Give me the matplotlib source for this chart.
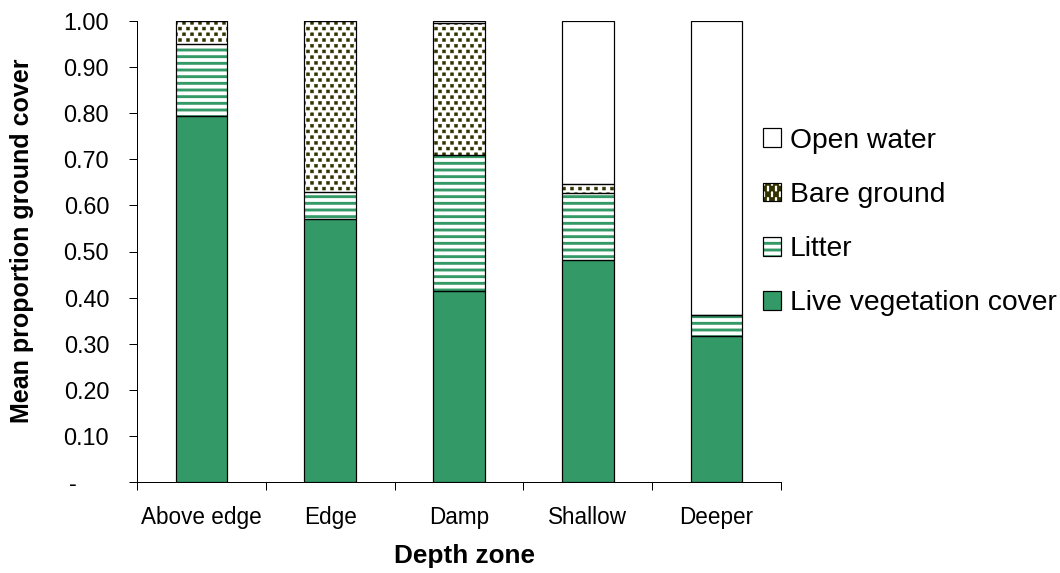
import matplotlib
matplotlib.use("Agg")
import matplotlib.pyplot as plt
import numpy as np
from matplotlib import hatch as mhatch
from matplotlib.path import Path
from matplotlib.ticker import FixedLocator, FuncFormatter, NullFormatter

# Mean proportion of ground cover in each depth zone
zones = ["Above edge", "Edge", "Damp", "Shallow", "Deeper"]
live_vegetation = [0.794, 0.570, 0.414, 0.482, 0.317]
litter = [0.157, 0.059, 0.295, 0.145, 0.045]
bare_ground = [0.049, 0.371, 0.286, 0.019, 0.000]
open_water = [0.000, 0.000, 0.005, 0.354, 0.638]

series_names = ["Live vegetation cover", "Litter", "Bare ground", "Open water"]
y_ticks = [0.0, 0.1, 0.2, 0.3, 0.4, 0.5, 0.6, 0.7, 0.8, 0.9, 1.0]

GREEN = "#339966"
OLIVE = "#333300"


class SquareDotHatch(mhatch.HatchPatternBase):
    """Staggered small filled squares, used for the '.' hatch."""
    side = 0.036  # square side, in hatch-cell units

    def __init__(self, hatch, density):
        k = hatch.count('.')
        self.num_vertices = 0
        if k == 0:
            return
        n = 5 * k          # squares per row in one cell
        m = 7 * k          # rows in one cell (even count keeps the tile seamless)
        m += m % 2
        self.centres = []
        for j in range(m + 1):
            y = j / m
            if j % 2 == 0:
                xs = np.linspace(0, 1, n + 1)
            else:
                xs = (np.arange(n) + 0.5) / n
            self.centres.extend((xx, y) for xx in xs)
        self.num_vertices = 5 * len(self.centres)

    def set_vertices_and_codes(self, vertices, codes):
        h = 0.5 * self.side
        sq = np.array([[-h, -h], [h, -h], [h, h], [-h, h], [-h, -h]])
        sc = [Path.MOVETO, Path.LINETO, Path.LINETO, Path.LINETO,
              Path.CLOSEPOLY]
        for k, (cx, cy) in enumerate(self.centres):
            vertices[5 * k:5 * k + 5] = sq + (cx, cy)
            codes[5 * k:5 * k + 5] = sc


mhatch._hatch_types = [SquareDotHatch if t is mhatch.SmallFilledCircles else t
                       for t in mhatch._hatch_types]

plt.rcParams["font.family"] = ["Liberation Sans", "DejaVu Sans"]
plt.rcParams["hatch.linewidth"] = 2.6

DPI = 80
W, H = 1060, 573
fig = plt.figure(figsize=(W / DPI, H / DPI), dpi=DPI)
ax = fig.add_axes([137 / W, 1 - 482 / H, 644 / W, 461 / H])

x = np.arange(len(zones))
width = 0.4

styles = [
    dict(color=GREEN, edgecolor=GREEN, hatch=None, hlw=None),
    dict(color="white", edgecolor=GREEN, hatch="--", hlw=2.6),
    dict(color="white", edgecolor=OLIVE, hatch="..", hlw=0.5),
    dict(color="white", edgecolor="white", hatch=None, hlw=None),
]

bottom = np.zeros(len(zones))
handles = []
for vals, st in zip([live_vegetation, litter, bare_ground, open_water], styles):
    vals = np.asarray(vals)
    fill = ax.bar(x, vals, width, bottom=bottom, color=st["color"],
                  edgecolor=st["edgecolor"], hatch=st["hatch"], linewidth=0,
                  zorder=2)
    if st["hlw"] is not None:
        for p in fill.patches:
            if hasattr(p, "set_hatch_linewidth"):
                p.set_hatch_linewidth(st["hlw"])
    outline = ax.bar(x, vals, width, bottom=bottom, fill=False,
                     edgecolor="black", linewidth=1.1, zorder=3)
    handles.append((fill, outline))
    bottom = bottom + vals

# Axes limits and spines
ax.set_xlim(-0.5, len(zones) - 0.5)
ax.set_ylim(0, 1.0)
for side in ("top", "right"):
    ax.spines[side].set_visible(False)
for side in ("left", "bottom"):
    ax.spines[side].set_linewidth(0.9)
    ax.spines[side].set_color("black")

# y ticks
ax.yaxis.set_major_locator(FixedLocator(y_ticks))
ax.yaxis.set_major_formatter(
    FuncFormatter(lambda v, pos: "-" + "\u2007\u2007 " if abs(v) < 1e-9 else f"{v:.2f}"))
ax.tick_params(axis="y", direction="out", length=7, width=0.9, pad=18,
               labelsize=21, colors="black")

# x ticks: marks at category boundaries, labels at centres
ax.xaxis.set_major_locator(FixedLocator(np.arange(len(zones) + 1) - 0.5))
ax.xaxis.set_major_formatter(NullFormatter())
ax.set_xticks(x, minor=True)
ax.set_xticklabels(zones, minor=True)
ax.tick_params(axis="x", which="major", direction="out", length=7, width=0.9)
ax.tick_params(axis="x", which="minor", length=0, pad=22, labelsize=20.3)

# axis titles
ax.set_xlabel("Depth zone", fontsize=23.5, fontweight="bold")
ax.xaxis.label.set(va="center", ha="center")
ax.xaxis.set_label_coords((464.5 - 137) / 644, (482 - 556.5) / 461)
ax.set_ylabel("")
fig.text(22 / W, 1 - 241 / H, "Mean proportion ground cover", rotation=90,
         ha="center", va="center", fontsize=22.5, fontweight="bold")

# legend, top entry first
leg = fig.legend(handles[::-1], series_names[::-1], loc="center left",
                 bbox_to_anchor=(763 / W, 1 - 222 / H), frameon=False,
                 fontsize=25.4, handlelength=0.64, handleheight=0.64,
                 handletextpad=0.3, labelspacing=1.0, borderpad=0,
                 borderaxespad=0)

fig.savefig("out.png", dpi=DPI, facecolor="white")
